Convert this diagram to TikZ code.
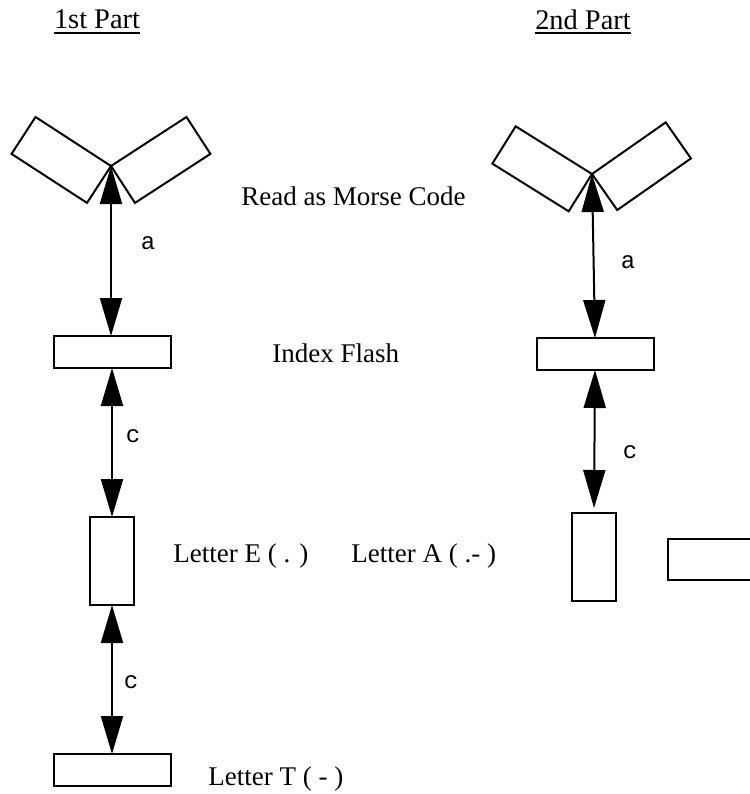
\documentclass[tikz,border=0pt]{standalone}
\usepackage{fontspec}
\setmainfont{Liberation Serif}
\setmonofont{Liberation Mono}
\usetikzlibrary{arrows.meta,positioning}

\newcommand{\parthead}[1]{\vtop{\hbox{#1}\kern1.5pt\hrule height 1pt}}

\begin{document}
\begin{tikzpicture}[x=0.5pt,y=-0.5pt,
  box/.style={draw,line width=1pt,inner sep=0pt,outer sep=0pt,fill=white},
  wide/.style={box,minimum width=58.5pt,minimum height=16pt},
  tall/.style={box,minimum width=22pt,minimum height=44pt},
  flap/.style={box,minimum width=45pt,minimum height=22pt},
  link/.style={line width=1pt,{Triangle[length=19pt,width=11pt]}-{Triangle[length=19pt,width=11pt]}},
  lab/.style={inner sep=0pt,font=\fontsize{13.5}{16}\selectfont},
  head/.style={inner sep=0pt,font=\fontsize{14.2}{17}\selectfont},
  tag/.style={inner sep=0pt,font=\ttfamily\fontsize{12}{14}\selectfont}]
  \clip (0,0) rectangle (750,794);
  % 1st part
  \node[head] (h1) at (97,22) {\parthead{1st Part}};
  \coordinate (v1) at (111,166);
  \node[flap,rotate=-33,anchor=north east] (f1) at (v1) {};
  \node[flap,rotate=33,anchor=north west] (f2) at (v1) {};
  \node[wide] (i1) at (112,352) {};
  \node[tall] (e) at (112,561) {};
  \node[wide] (t) at (112,770) {};
  \draw[link] (v1) -- (v1 |- i1.north);
  \draw[link] (i1.south) -- (e.north);
  \draw[link] (e.south) -- (t.north);
  \node[tag] (a1) at (148,243) {a};
  \node[tag] (c1) at (133,436) {c};
  \node[tag] (c2) at (131,682) {c};
  % texts
  \node[lab,anchor=west] (rm) at (241,196) {Read as Morse Code};
  \node[lab,anchor=west] (ixf) at (272,353) {Index Flash};
  \node[lab,anchor=west] (le) at (173,556) {Letter E ( . )};
  \node[lab,anchor=west] (la) at (351,556) {Letter A ( .- )};
  \node[lab,anchor=west] (lt) at (208,779) {Letter T ( - )};
  % 2nd part
  \node[head] (h2) at (583,22) {\parthead{2nd Part}};
  \coordinate (v2) at (592,174);
  \node[flap,rotate=-32,anchor=north east] (g1) at (v2) {};
  \node[flap,rotate=35,anchor=north west] (g2) at (v2) {};
  \node[wide] (i2) at (595,354) {};
  \node[tall] (ra) at (594,557) {};
  \node[wide,minimum height=20.5pt,anchor=west] (rb) at (668,559.5) {};
  \draw[link] (v2) -- (i2.north);
  \draw[link,shorten >=2.5pt] (i2.south) -- (ra.north);
  \node[tag] (a2) at (628,262) {a};
  \node[tag] (c3) at (630,452) {c};
\end{tikzpicture}
\end{document}
